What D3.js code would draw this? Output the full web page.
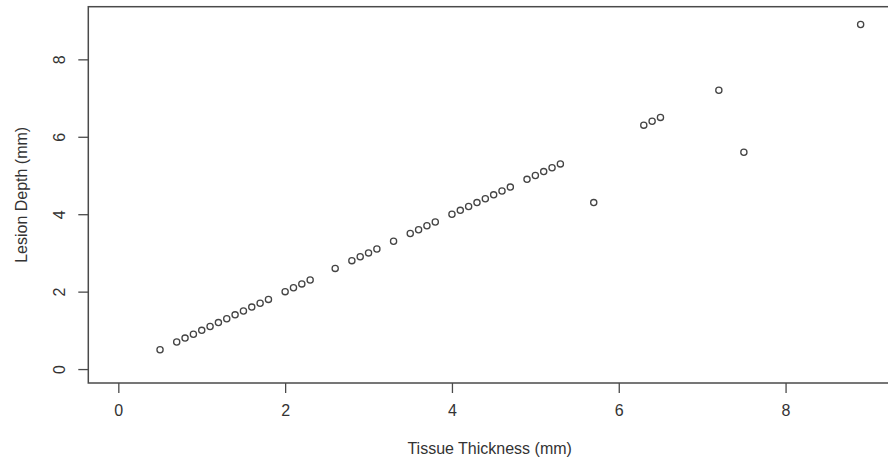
<!DOCTYPE html>
<meta charset="utf-8">
<style>

body {
  margin: 0;
  background: #fff;
}

svg {
  font-family: Arial, "Liberation Sans", sans-serif;
}

.frame {
  fill: none;
  stroke: #4a4a4a;
  stroke-width: 1.5px;
}

.tick line {
  stroke: #4a4a4a;
  stroke-width: 1.3px;
}

.tick text, .label {
  fill: #333;
  font-size: 16px;
}

.pt {
  fill: none;
  stroke: #444;
  stroke-width: 1.3px;
}

</style>
<svg width="888" height="470"></svg>
<script src="https://cdnjs.cloudflare.com/ajax/libs/d3/7.8.5/d3.min.js"></script>
<script>

// Tissue thickness (mm) and lesion depth (mm)
var thickness = [0.5, 0.7, 0.8, 0.9, 1.0, 1.1, 1.2, 1.3, 1.4, 1.5, 1.6, 1.7, 1.8,
                 2.0, 2.1, 2.2, 2.3, 2.6, 2.8, 2.9, 3.0, 3.1, 3.3, 3.5, 3.6, 3.7, 3.8,
                 4.0, 4.1, 4.2, 4.3, 4.4, 4.5, 4.6, 4.7, 4.9, 5.0, 5.1, 5.2, 5.3,
                 5.7, 6.3, 6.4, 6.5, 7.2, 7.5, 8.9];
var depth     = [0.5, 0.7, 0.8, 0.9, 1.0, 1.1, 1.2, 1.3, 1.4, 1.5, 1.6, 1.7, 1.8,
                 2.0, 2.1, 2.2, 2.3, 2.6, 2.8, 2.9, 3.0, 3.1, 3.3, 3.5, 3.6, 3.7, 3.8,
                 4.0, 4.1, 4.2, 4.3, 4.4, 4.5, 4.6, 4.7, 4.9, 5.0, 5.1, 5.2, 5.3,
                 4.3, 6.3, 6.4, 6.5, 7.2, 5.6, 8.9];

var xTicks = [0, 2, 4, 6, 8],
    yTicks = [0, 2, 4, 6, 8];

var svg = d3.select("svg");

// R style limits: 0..9 padded by 4% on each side
var lim = [0, 9],
    pad = (lim[1] - lim[0]) * 0.04;

var plotL = 88.3, plotR = 899, plotT = 6.7, plotB = 383;

var x = d3.scaleLinear()
    .domain([lim[0] - pad, lim[1] + pad])
    .range([plotL, plotR]);

var y = d3.scaleLinear()
    .domain([lim[0] - pad, lim[1] + pad])
    .range([plotB, plotT]);

// Box around the plot region
svg.append("rect")
    .attr("class", "frame")
    .attr("x", plotL)
    .attr("y", plotT)
    .attr("width", plotR - plotL)
    .attr("height", plotB - plotT);

// Axes
var gx = svg.append("g")
    .attr("transform", "translate(0," + plotB + ")")
    .call(d3.axisBottom(x).tickValues(xTicks).tickSize(10).tickPadding(12).tickFormat(d3.format("d")));

var gy = svg.append("g")
    .attr("transform", "translate(" + plotL + ",0)")
    .call(d3.axisLeft(y).tickValues(yTicks).tickSize(10).tickFormat(d3.format("d")));

gx.select(".domain").remove();
gy.select(".domain").remove();
gx.attr("font-family", null).attr("font-size", null);
gy.attr("font-family", null).attr("font-size", null);

// y tick labels sit parallel to the axis, as in R
gy.selectAll(".tick text")
    .attr("x", null)
    .attr("text-anchor", "middle")
    .attr("transform", "translate(-29,0) rotate(-90)")
    .attr("dy", "0.35em");

// Axis titles
svg.append("text")
    .attr("class", "label")
    .attr("x", (plotL + plotR) / 2 - 4)
    .attr("y", plotB + 65)
    .attr("dy", "0.35em")
    .attr("text-anchor", "middle")
    .text("Tissue Thickness (mm)");

svg.append("text")
    .attr("class", "label")
    .attr("transform", "translate(21," + (plotT + plotB) / 2 + ") rotate(-90)")
    .attr("dy", "0.35em")
    .attr("text-anchor", "middle")
    .text("Lesion Depth (mm)");

// Open circles
svg.selectAll(".pt")
    .data(thickness)
  .enter().append("circle")
    .attr("class", "pt")
    .attr("cx", function(d) { return x(d); })
    .attr("cy", function(d, i) { return y(depth[i]); })
    .attr("r", 3.1);

</script>
